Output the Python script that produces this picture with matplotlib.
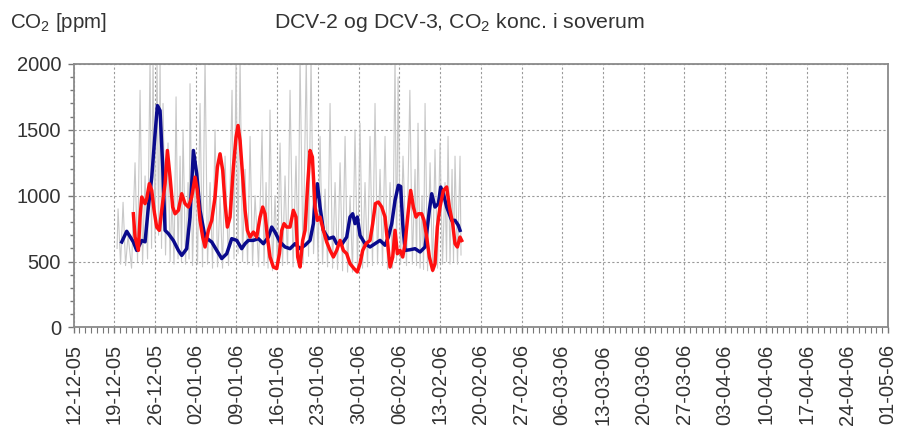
import datetime as dt
import matplotlib
matplotlib.use("Agg")
import matplotlib.pyplot as plt
import matplotlib.dates as mdates
import numpy as np

plt.rcParams['font.family'] = ['Liberation Sans', 'DejaVu Sans']
plt.rcParams['mathtext.fontset'] = 'custom'
plt.rcParams['mathtext.rm'] = 'Liberation Sans'
plt.rcParams['mathtext.default'] = 'regular'

# ---------------- data (days after 12-12-2005, ppm) ----------------
start_date = dt.datetime(2005, 12, 12)
end_date = dt.datetime(2006, 5, 1)

gray_days = [7.48, 7.65, 8.08, 8.51, 8.94, 9.37, 9.97, 10.57, 11.0, 11.43, 11.86, 12.29,
             12.72, 13.15, 13.41, 13.66, 14.01, 14.35, 14.61, 14.87, 15.12, 15.38, 15.81,
             16.24, 16.59, 16.93, 17.27, 17.62, 17.96, 18.31, 18.56, 18.82, 19.25, 19.68,
             19.85, 20.02, 20.45, 20.88, 21.31, 21.74, 22.17, 22.60, 23.03, 23.46, 23.89,
             24.32, 24.75, 25.18, 25.61, 26.04, 26.64, 27.24, 27.58, 27.93, 28.27, 28.62,
             29.05, 29.48, 29.91, 30.34, 30.77, 31.20, 31.80, 32.40, 32.74, 33.09, 33.43,
             33.77, 34.20, 34.63, 35.06, 35.49, 35.92, 36.35, 36.78, 37.21, 37.73, 38.24,
             38.59, 38.93, 39.45, 40.00, 40.39, 40.82, 41.25, 41.68, 42.03, 42.37, 42.80,
             43.23, 43.66, 44.09, 44.52, 44.95, 45.38, 45.81, 46.24, 46.67, 47.10, 47.53,
             47.95, 48.38, 48.81, 49.24, 49.67, 50.10, 50.53, 50.96, 51.39, 51.82, 52.25,
             52.68, 53.11, 53.54, 53.97, 54.40, 54.83, 55.26, 55.52, 55.78, 56.20, 56.63,
             57.23, 57.81, 58.24, 58.70, 58.96, 59.21, 59.56, 59.90, 60.16, 60.42, 60.85,
             61.28, 61.71, 62.13, 62.56, 62.99, 63.42, 63.85, 64.11, 64.37, 64.71, 65.06,
             65.31, 65.57, 66.00, 66.43, 66.60]
gray_vals = [600, 900, 480, 950, 470, 700, 450, 1250, 500, 1800, 480, 1150,
             520, 2050, 600, 2050, 650, 2050, 700, 2050, 600, 1700, 550,
             1400, 500, 1000, 480, 1750, 520, 1300, 500, 1500, 480, 1100,
             520, 1850, 470, 1200, 480, 1700, 460, 2050, 480, 1100, 450,
             1500, 460, 1000, 450, 1300, 470, 1800, 520, 2050, 560, 2050,
             500, 1200, 480, 1450, 470, 1000, 460, 1500, 470, 1100, 450,
             1650, 430, 1000, 440, 1400, 470, 1150, 480, 1800, 460, 1300,
             470, 2050, 480, 2050, 540, 2050, 560, 1100, 500, 1450, 480,
             1050, 460, 1700, 450, 1100, 440, 1250, 430, 1450, 420, 1000,
             420, 1500, 430, 1550, 450, 1100, 460, 1450, 470, 1700, 480,
             1200, 470, 1450, 440, 1100, 450, 2050, 500, 1900, 480, 1300,
             470, 1800, 480, 1200, 470, 1550, 450, 1000, 440, 1700, 430,
             1250, 420, 1350, 450, 1400, 480, 1100, 500, 1450, 480, 1200,
             500, 1300, 480, 1300, 550]

blue_days = [8.28, 9.14, 10.28, 10.86, 11.72, 12.29, 12.86, 13.44, 14.01, 14.41, 14.87,
             15.33, 15.73, 16.30, 17.16, 18.02, 18.59, 19.45, 20.02, 20.60, 21.17, 21.74,
             22.60, 23.75, 24.61, 25.47, 26.33, 27.19, 28.05, 28.90, 29.48, 30.05, 30.91,
             31.77, 32.63, 33.49, 34.06, 34.63, 35.49, 36.35, 37.21, 38.07, 38.93, 39.79,
             40.65, 41.22, 41.51, 41.91, 42.37, 42.94, 43.80, 44.66, 45.23, 46.09, 46.95,
             47.52, 47.98, 48.38, 48.78, 49.24, 50.10, 50.96, 51.82, 52.68, 53.54, 54.11,
             54.69, 55.26, 55.83, 56.23, 56.58, 56.98, 57.84, 58.70, 59.56, 60.42, 61.16,
             61.56, 62.13, 62.71, 63.11, 63.57, 64.14, 65.00, 65.57, 66.14, 66.43]
blue_vals = [649, 730, 649, 585, 660, 650, 914, 1141, 1470, 1684, 1646,
             1217, 737, 712, 660, 585, 547, 598, 838, 1343, 1167, 889,
             686, 649, 585, 523, 560, 674, 661, 598, 636, 661, 661,
             674, 636, 686, 762, 724, 649, 611, 598, 636, 598, 624,
             661, 788, 964, 1091, 914, 737, 674, 686, 636, 630, 686,
             838, 863, 788, 838, 699, 636, 611, 636, 661, 624, 686,
             788, 964, 1079, 1070, 788, 585, 590, 598, 573, 611, 889,
             1015, 914, 940, 1066, 1015, 914, 813, 813, 775, 737]

red_days = [10.28, 10.57, 11.14, 11.43, 11.72, 12.29, 12.58, 13.03, 13.44, 13.84, 14.29,
            14.75, 15.15, 15.73, 16.13, 16.59, 17.04, 17.45, 18.02, 18.59, 19.16, 19.74,
            20.31, 20.88, 21.28, 21.74, 22.20, 22.60, 23.17, 23.75, 24.32, 24.72, 25.18,
            25.64, 26.04, 26.44, 26.90, 27.47, 27.93, 28.27, 28.62, 29.08, 29.48, 29.88,
            30.34, 30.91, 31.48, 32.06, 32.51, 32.91, 33.32, 33.77, 34.35, 34.92, 35.38,
            35.78, 36.18, 36.64, 37.21, 37.78, 38.24, 38.53, 38.93, 39.39, 39.79, 40.25,
            40.65, 41.05, 41.51, 41.91, 42.37, 42.94, 43.51, 44.09, 44.66, 45.23, 45.81,
            46.38, 46.95, 47.52, 48.21, 48.78, 49.24, 49.70, 50.28, 50.96, 51.42, 51.88,
            52.39, 52.97, 53.54, 53.94, 54.40, 54.86, 55.26, 55.66, 56.12, 56.58, 56.98,
            57.55, 57.95, 58.41, 58.87, 59.27, 59.84, 60.24, 60.70, 61.16, 61.73, 62.13,
            62.53, 62.99, 63.57, 64.14, 64.60, 65.17, 65.57, 65.97, 66.43, 66.72]
red_vals = [863, 686, 585, 838, 990, 940, 977, 1091, 1040, 889, 762,
            737, 889, 1091, 1343, 1141, 914, 863, 889, 1015, 940, 914,
            990, 1141, 1040, 813, 686, 611, 737, 813, 990, 1217, 1318,
            1192, 940, 762, 838, 1217, 1444, 1533, 1419, 1141, 889, 737,
            686, 724, 686, 838, 914, 863, 686, 535, 459, 447, 560,
            737, 788, 762, 762, 889, 838, 535, 459, 661, 737, 1091,
            1343, 1293, 914, 813, 838, 737, 649, 585, 535, 585, 661,
            585, 560, 484, 447, 421, 484, 585, 636, 661, 788, 940,
            952, 914, 838, 661, 459, 535, 737, 560, 585, 535, 636,
            889, 1040, 914, 838, 863, 863, 813, 686, 535, 434, 484,
            762, 914, 1040, 1066, 914, 788, 636, 611, 686, 660]

y_ticks = [0, 500, 1000, 1500, 2000]
title_text = "DCV-2 og DCV-3, CO$_2$ konc. i soverum"
ylabel_text = "CO$_2$ [ppm]"


def to_dates(days):
    return [start_date + dt.timedelta(days=d) for d in days]


# ---------------- figure ----------------
fig = plt.figure(figsize=(8.97, 4.40), dpi=100)
ax = fig.add_axes([0.082, 0.2557, 0.908, 0.599])

text_col = "#333333"
ax.plot(to_dates(gray_days), gray_vals, color="#c8c8c8", lw=0.8, zorder=2)
ax.plot(to_dates(blue_days), blue_vals, color="#0a0a8c", lw=2.5, zorder=3,
        solid_joinstyle="round")
ax.plot(to_dates(red_days), red_vals, color="#ff1010", lw=2.5, zorder=4,
        solid_joinstyle="round")

ax.set_xlim(start_date, end_date)
ax.set_ylim(0, 2000)
ax.set_yticks(y_ticks)
ax.yaxis.set_minor_locator(matplotlib.ticker.MultipleLocator(100))

ax.xaxis.set_major_locator(mdates.WeekdayLocator(byweekday=mdates.MO))
ax.xaxis.set_major_formatter(mdates.DateFormatter('%d-%m-%y'))
ax.xaxis.set_minor_locator(mdates.DayLocator())

for lab in ax.get_xticklabels():
    lab.set_rotation(90)

ax.tick_params(axis='both', which='both', direction='out', colors="#777777",
               labelcolor=text_col, labelsize=14.5)
ax.tick_params(axis='y', which='major', length=4, width=1, pad=5)
ax.tick_params(axis='y', which='minor', length=3, width=1)
ax.tick_params(axis='x', which='major', length=4, width=1, pad=8)
ax.tick_params(axis='x', which='minor', length=4, width=0.8)

ax.grid(True, which='major', color="#9a9a9a", lw=0.8, linestyle=(0, (2, 2)), zorder=1)
ax.set_axisbelow(True)

for sp in ax.spines.values():
    sp.set_color("#8a8a8a")
    sp.set_linewidth(1.3)

fig.text(0.512, 0.948, title_text, ha='center', va='center', fontsize=15.3, color=text_col)
fig.text(0.011, 0.948, ylabel_text, ha='left', va='center', fontsize=14.8, color=text_col)

fig.savefig("out.png", dpi=100)
